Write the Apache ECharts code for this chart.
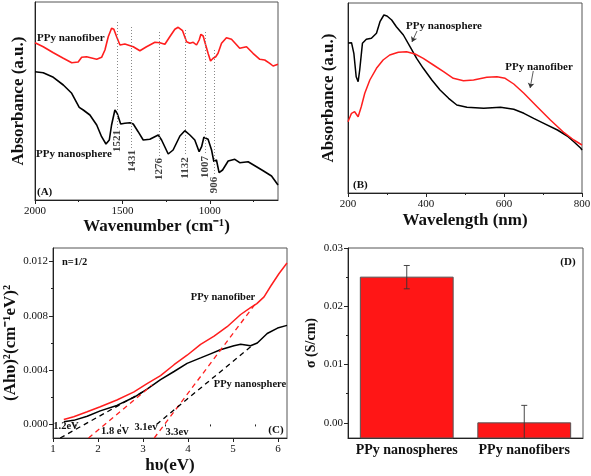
<!DOCTYPE html>
<html><head><meta charset="utf-8">
<script src="https://cdn.jsdelivr.net/npm/echarts@6/dist/echarts.min.js"></script>
<style>html,body{margin:0;padding:0;background:#fff}#c{width:591px;height:476px}</style>
</head><body><div id="c"></div>
<script>
// ---------- (A) FTIR ----------
const ftirNanofiber = [[2000,157.3],[1953,153.3],[1895,147.3],[1838,141.7],[1790,137.3],[1753,138],[1733,142.7],[1705,143.3],[1647,140.7],[1619,142.7],[1600,150],[1581,163.3],[1562,171.7],[1549,170.7],[1533,163.3],[1514,155],[1486,156],[1438,153.3],[1400,149.3],[1362,153.3],[1314,157.7],[1286,157.3],[1257,155.7],[1229,163.3],[1200,170.7],[1181,172.7],[1156,169.3],[1133,158.3],[1114,156.7],[1095,157.7],[1076,155],[1061,160],[1051,165.7],[1038,164],[1029,158.3],[1010,146.7],[996,139],[981,141.7],[966,143.3],[953,146.7],[933,156.7],[905,162.3],[876,160.7],[829,151.7],[790,153.3],[753,146.7],[714,140.7],[686,140],[657,136.7],[638,134],[610,135.7]];
const ftirNanosphere = [[2000,128.3],[1953,127.3],[1895,122.7],[1838,115],[1790,106.7],[1747,92.7],[1724,90],[1686,85],[1647,75],[1619,63.3],[1594,56],[1575,60],[1562,75],[1543,90],[1530,86.7],[1510,76],[1486,76.7],[1457,77.3],[1438,76],[1410,68.3],[1381,60],[1343,60.7],[1295,65],[1276,60],[1238,46],[1210,50],[1171,64],[1143,69.3],[1114,65],[1086,60],[1061,48.3],[1047,53.3],[1034,62.7],[1010,60.7],[990,50],[977,38.3],[962,40],[947,27.3],[927,30],[895,39],[857,40.7],[829,37.3],[781,38.3],[733,33.3],[695,29.3],[647,24],[610,15]];
const peakLabels = ['1521','1431','1276','1132','1007','906'];
const peakWavenumbers = [1530,1447,1290,1143,1029,975];
const ftirTicks = [1000,1500,2000];
const ftirMinorTicks = [750,1250,1750];

// ---------- (B) UV-vis ----------
const uvNanosphere = [[200,150],[203,149.7],[209,150.3],[215,139.7],[221,116.3],[226,111.3],[230,123],[237,149.7],[247,153.7],[260,154.7],[273,159.7],[282,171.3],[292,178],[300,177],[312,173],[324,166.3],[342,158],[359,146.3],[376,134.7],[393,124.7],[415,113],[436,103],[458,94.7],[479,88],[505,85.7],[548,84.7],[591,85.7],[625,83.7],[651,79.7],[676,74.7],[702,69.7],[737,63],[762,57],[779,51.3],[797,44.7],[800,43]];
const uvNanofiber = [[200,71.3],[209,79.7],[217,81.3],[226,76.3],[234,86.3],[243,99.7],[256,113],[273,124.7],[290,133],[307,138],[329,140.7],[350,141.3],[372,139],[393,134.7],[419,128],[445,121.3],[470,114.7],[496,112.3],[522,113],[556,115.7],[582,116.3],[603,114.7],[625,109],[651,99.7],[685,86.3],[719,73],[754,60.3],[779,53],[800,48]];

// ---------- (C) Tauc plot ----------
const taucNanofiber = [[1.24,0.00037],[1.46,0.00057],[1.76,0.00093],[2.05,0.0013],[2.42,0.0018],[2.80,0.0024],[3.09,0.0030],[3.39,0.0036],[3.69,0.0044],[3.98,0.0051],[4.28,0.0059],[4.58,0.0065],[4.87,0.0072],[5.17,0.0081],[5.39,0.0086],[5.53,0.0089],[5.69,0.0094],[5.84,0.0102],[6.02,0.0111],[6.2,0.0119]];
const taucNanosphere = [[1.24,0.0002],[1.46,0.0003],[1.76,0.0006],[2.05,0.0010],[2.42,0.0014],[2.80,0.0020],[3.09,0.0026],[3.39,0.0033],[3.69,0.0039],[3.98,0.0045],[4.28,0.0049],[4.50,0.0052],[4.72,0.0055],[5.02,0.0058],[5.17,0.0059],[5.39,0.0058],[5.54,0.0060],[5.76,0.0067],[5.99,0.0071],[6.2,0.0073]];
const taucFitNanofiber = [[[1.79,-0.001],[3.2,0.0029]],[[3.25,-0.001],[5.5,0.0089]]];
const taucFitNanosphere = [[[1.16,-0.001],[3.0,0.0024]],[[3.3,0.0],[5.42,0.0058]]];
const taucXTicks = [1,2,3,4,5,6];
const taucXMinor = [1.5,2.5,3.5,4.5,5.5];
const taucYTicks = [0,0.004,0.008,0.012];
const taucYMinor = [0.002,0.006,0.010];

// ---------- (D) Conductivity ----------
const condCategories = ['PPy nanospheres','PPy nanofibers'];
const condValues = [0.025, 0.0];
const condErrors = [0.002, 0.003];
const condYTicks = [0,0.01,0.02,0.03];
const condYMinor = [0.005,0.015,0.025];

// ---------- helpers ----------
const SERIF = '"Liberation Serif","Times New Roman",serif';
const RED = '#ff1e1e', BLACK = '#000';
const AX = '#222';
const yMinD = -0.0026;

function mainAxis(o){
  return Object.assign({
    type:'value', splitLine:{show:false},
    axisLine:{show:true, onZero:false, lineStyle:{color:AX, width:1}},
    axisTick:{show:false},
    axisLabel:{show:false, fontFamily:SERIF, fontSize:11, color:'#111', margin:5},
    nameTextStyle:{fontFamily:SERIF, fontWeight:'bold', fontSize:17, color:'#111'},
    nameLocation:'middle'
  }, o);
}
function minorAxis(o, ticks){
  return Object.assign({
    type:'value', splitLine:{show:false},
    axisLine:{show:false}, axisLabel:{show:false},
    axisTick:{show:true, customValues:ticks, length:2, lineStyle:{color:AX}}
  }, o);
}
function txt(x,y,text,size,align,va,extra){
  return Object.assign({type:'text', x:x, y:y, silent:true, style:{text:text, font:'bold '+size+'px '+SERIF, fill:'#111', textAlign:align||'center', textVerticalAlign:va||'middle'}}, extra||{});
}

const grids = [
  {left:35, top:2, width:243, height:198},
  {left:348, top:3, width:234, height:190},
  {left:53, top:248, width:234, height:190},
  {left:348, top:248, width:235, height:190}
].map(g=>Object.assign(g,{show:true, borderColor:'#555', borderWidth:1, backgroundColor:'transparent', containLabel:false, outerBoundsMode:'none'}));

const option = {
  animation:false,
  backgroundColor:'#fff',
  grid: grids,
  xAxis: [
    mainAxis({gridIndex:0, position:'bottom', min:610, max:2000, inverse:true,
      axisTick:{show:true, customValues:ftirTicks, length:4, lineStyle:{color:AX}},
      axisLabel:{show:true, customValues:ftirTicks, formatter:v=>String(v), fontFamily:SERIF, fontSize:11, color:'#111', margin:6},
      name:'Wavenumber (cm\u207B\u00B9)', nameGap:12}),
    minorAxis({gridIndex:0, position:'bottom', min:610, max:2000, inverse:true}, ftirMinorTicks),
    mainAxis({gridIndex:1, position:'bottom', min:200, max:800, interval:200,
      axisTick:{show:true, length:4, lineStyle:{color:AX}},
      minorTick:{show:true, splitNumber:2, length:2, lineStyle:{color:AX}},
      axisLabel:{show:true, formatter:v=>String(v), fontFamily:SERIF, fontSize:11, color:'#111', margin:6},
      name:'Wavelength (nm)', nameGap:19}),
    mainAxis({gridIndex:2, position:'bottom', min:1, max:6.2,
      axisTick:{show:true, customValues:taucXTicks, length:4, lineStyle:{color:AX}},
      axisLabel:{show:true, customValues:taucXTicks, formatter:v=>String(v), fontFamily:SERIF, fontSize:11, color:'#111', margin:6},
      name:'h\u03C5(eV)', nameGap:19}),
    minorAxis({gridIndex:2, position:'bottom', min:1, max:6.2}, taucXMinor),
    {type:'category', gridIndex:3, position:'bottom', data:condCategories,
      axisLine:{show:true, onZero:false, lineStyle:{color:AX}}, axisTick:{show:false},
      axisLabel:{interval:0, hideOverlap:false, fontFamily:SERIF, fontWeight:'bold', fontSize:14, color:'#111', margin:5}}
  ],
  yAxis: [
    mainAxis({gridIndex:0, position:'left', min:0, max:198, name:'Absorbance (a.u.)', nameGap:8, nameRotate:90}),
    mainAxis({gridIndex:1, position:'left', min:0, max:190, name:'Absorbance (a.u.)', nameGap:11, nameRotate:90}),
    mainAxis({gridIndex:2, position:'left', min:-0.001, max:0.013,
      axisTick:{show:true, customValues:taucYTicks, length:4, lineStyle:{color:AX}},
      axisLabel:{show:true, customValues:taucYTicks, formatter:v=>v.toFixed(3), fontFamily:SERIF, fontSize:11, color:'#111', margin:5},
      name:'(Ah\u03C5)\u00B2(cm\u207B\u00B9eV)\u00B2', nameGap:33, nameRotate:90}),
    minorAxis({gridIndex:2, position:'left', min:-0.001, max:0.013}, taucYMinor),
    mainAxis({gridIndex:3, position:'left', min:yMinD, max:0.03,
      axisTick:{show:true, customValues:condYTicks, length:4, lineStyle:{color:AX}},
      axisLabel:{show:true, customValues:condYTicks, formatter:v=>v.toFixed(2), fontFamily:SERIF, fontSize:11, color:'#111', margin:5},
      name:'\u03C3 (S/cm)', nameGap:30, nameRotate:90, nameTextStyle:{fontFamily:SERIF, fontWeight:'bold', fontSize:14, color:'#111'}}),
    minorAxis({gridIndex:3, position:'left', min:yMinD, max:0.03}, condYMinor)
  ],
  series: [
    {type:'line', name:'FTIR nanofiber', xAxisIndex:0, yAxisIndex:0, data:ftirNanofiber, showSymbol:false, lineStyle:{color:RED, width:1.6}, z:3,
      markLine:{silent:true, symbol:['none','none'], label:{show:false}, lineStyle:{color:'#888', type:[1,2], width:1},
        data: peakWavenumbers.map((w,i)=>[{coord:[w,[178,173,168,170,168,150][i]]},{coord:[w,[72,50,43,45,45,24][i]]}])}},
    {type:'line', name:'FTIR nanosphere', xAxisIndex:0, yAxisIndex:0, data:ftirNanosphere, showSymbol:false, lineStyle:{color:BLACK, width:1.6}, z:3},
    {type:'scatter', name:'peaks', xAxisIndex:0, yAxisIndex:0, symbolSize:1, itemStyle:{color:'transparent'}, silent:true,
      data: peakWavenumbers.map((w,i)=>({name:peakLabels[i], value:[w,[59,39,31,32,33,15][i]]})),
      label:{show:true, position:'inside', formatter:'{b}', rotate:90, fontFamily:SERIF, fontWeight:'bold', fontSize:11, color:'#111'}},
    {type:'line', name:'UV nanosphere', xAxisIndex:2, yAxisIndex:1, data:uvNanosphere, showSymbol:false, lineStyle:{color:BLACK, width:1.5},
      markLine:{silent:true, symbol:['none','arrow'], symbolSize:5, label:{show:false}, lineStyle:{color:'#333', type:'solid', width:0.8},
        data:[[{coord:[377,162]},{coord:[364,151]}]]}},
    {type:'line', name:'UV nanofiber', xAxisIndex:2, yAxisIndex:1, data:uvNanofiber, showSymbol:false, lineStyle:{color:RED, width:1.5},
      markLine:{silent:true, symbol:['none','arrow'], symbolSize:5, label:{show:false}, lineStyle:{color:'#333', type:'solid', width:0.8},
        data:[[{coord:[675,122]},{coord:[667,105]}]]}},
    {type:'line', name:'Tauc nanofiber', xAxisIndex:3, yAxisIndex:2, data:taucNanofiber, showSymbol:false, lineStyle:{color:RED, width:1.5}},
    {type:'line', name:'Tauc nanosphere', xAxisIndex:3, yAxisIndex:2, data:taucNanosphere, showSymbol:false, lineStyle:{color:BLACK, width:1.5}},
    ...taucFitNanofiber.map(seg=>({type:'line', xAxisIndex:3, yAxisIndex:2, data:seg, showSymbol:false, lineStyle:{color:RED, width:1.3, type:[5,4]}})),
    ...taucFitNanosphere.map(seg=>({type:'line', xAxisIndex:3, yAxisIndex:2, data:seg, showSymbol:false, lineStyle:{color:BLACK, width:1.3, type:[5,4]}})),
    {type:'custom', name:'conductivity', xAxisIndex:5, yAxisIndex:4,
      data: condCategories.map((c,i)=>[i, condValues[i]]),
      renderItem:(params, api)=>{
        const i = api.value(0), v = api.value(1);
        const top = api.coord([i, v]), base = api.coord([i, yMinD]);
        const w = api.size([1,0])[0]*0.79;
        return {type:'rect', shape:{x:top[0]-w/2, y:top[1], width:w, height:Math.max(base[1]-top[1],0)}, style:{fill:'#ff1616', stroke:'#555', lineWidth:1}};
      }},
    {type:'custom', name:'error', xAxisIndex:5, yAxisIndex:4, z:5,
      data: condCategories.map((c,i)=>[i, condValues[i], condErrors[i]]),
      renderItem:(params, api)=>{
        const i = api.value(0), v = api.value(1), e = api.value(2);
        const lowV = v-e;
        const hi = api.coord([i, v+e]), lo = api.coord([i, Math.max(lowV, yMinD)]);
        const cap = 3, st = {stroke:'#333', lineWidth:0.9};
        const ch = [
          {type:'line', shape:{x1:hi[0], y1:hi[1], x2:lo[0], y2:lo[1]}, style:st},
          {type:'line', shape:{x1:hi[0]-cap, y1:hi[1], x2:hi[0]+cap, y2:hi[1]}, style:st}
        ];
        if (lowV >= yMinD) ch.push({type:'line', shape:{x1:lo[0]-cap, y1:lo[1], x2:lo[0]+cap, y2:lo[1]}, style:st});
        return {type:'group', children:ch};
      }}
  ],
  graphic: [
    txt(37,38,'PPy nanofiber',11,'left'),
    txt(36,154,'PPy nanosphere',11,'left'),
    txt(37,192,'(A)',11,'left'),
    txt(444,26,'PPy nanosphere',11),
    txt(539,67,'PPy nanofiber',11),
    txt(353,185,'(B)',11,'left'),
    txt(62,262,'n=1/2',10.5,'left'),
    txt(223,297,'PPy nanofiber',10.5),
    txt(250,384,'PPy nanosphere',10.5),
    txt(66,426.5,'1.2eV',10.5),
    txt(115,431.5,'1.8 eV',10.5),
    txt(146,427.5,'3.1ev',10.5),
    txt(177,432,'3.3ev',10.5),
    txt(276,430,'(C)',11),
    txt(568,262,'(D)',11)
  ]
};
const chart = echarts.init(document.getElementById('c'), null, {renderer:'canvas'});
chart.setOption(option);
</script></body></html>
